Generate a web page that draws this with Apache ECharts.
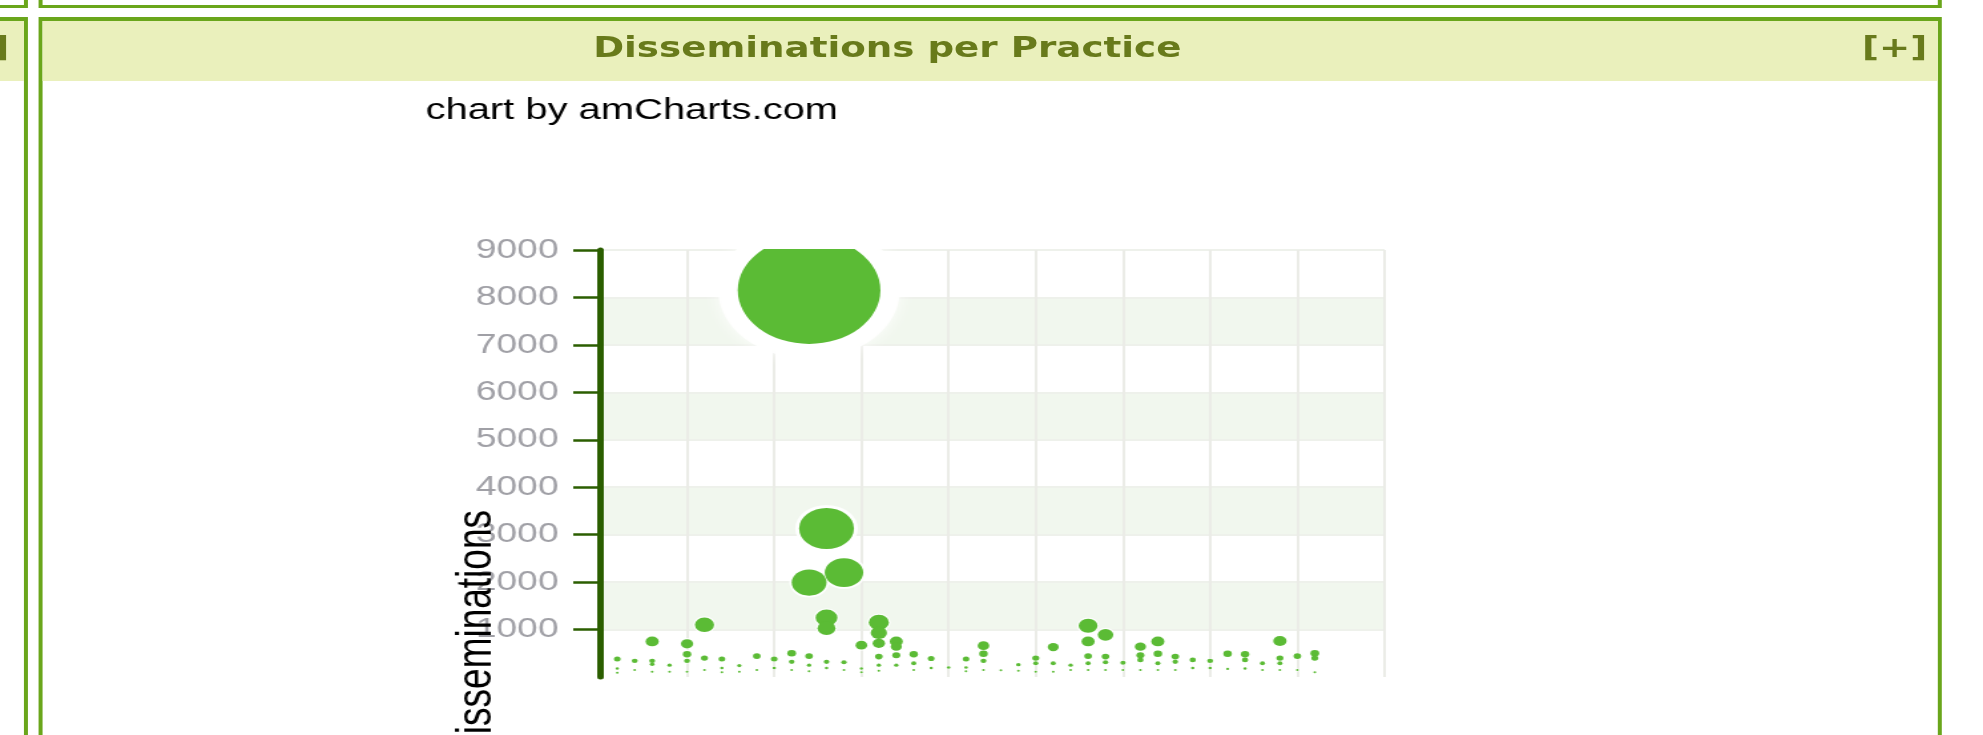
<!DOCTYPE html>
<html>
<head>
<meta charset="utf-8">
<title>Disseminations per Practice</title>
<script src="https://cdn.jsdelivr.net/npm/echarts@6/dist/echarts.min.js"></script>
<style>
  * { margin: 0; padding: 0; }
  body { width: 1983px; height: 735px; overflow: hidden; background: #fff; }
  /* the screenshot is stretched sideways, so lay out narrow and scale up */
  #page {
    position: absolute; left: 0; top: 0;
    width: 1491px; height: 735px;
    transform: scaleX(1.33); transform-origin: 0 0;
  }
  .panel { position: absolute; box-sizing: border-box; border: 3px solid #6aa61b; }
  .panel.low { border-top-width: 4px; }
  .head { position: absolute; left: 0; right: 0; top: 0; height: 60px; background: #eaf0bc; }
  .hd {
    position: absolute; top: 31px; height: 52px; line-height: 52px;
    font: bold 28px "DejaVu Sans", sans-serif; color: #687a1b; white-space: nowrap;
  }
  #chart { position: absolute; left: 0; top: 0; width: 1491px; height: 735px; }
</style>
</head>
<body>
<div id="page">
  <!-- neighbouring panels -->
  <div class="panel" style="left:-100px; top:-20px; width:121px; height:28px;"></div>
  <div class="panel" style="left:29.3px; top:-20px; width:1431px; height:28px;"></div>
  <div class="panel low" style="left:-100px; top:17px; width:121px; height:800px;"><div class="head"></div></div>
  <div class="panel low" style="left:29.3px; top:17px; width:1431px; height:800px;"><div class="head"></div></div>
  <div class="hd" style="left:-60px; width:67px; text-align:right;">[+]</div>
  <div class="hd" style="left:446px;">Disseminations per Practice</div>
  <div class="hd" style="left:1400px;">[+]</div>
  <div id="chart"></div>
</div>
<script>
// practice number on x, disseminations on y (one list of bubbles per practice)
var practiceIds = [];
for (var i = 1; i <= 41; i++) practiceIds.push(i);

var disseminations = [
  [380, 180, 90],
  [340, 150],
  [750, 340, 270, 110],
  [250, 110],
  [700, 480, 340, 110],
  [1100, 400, 150],
  [380, 190, 100],
  [240, 110],
  [440, 150],
  [380, 190],
  [500, 320, 150],
  [8150, 1990, 440, 250, 120],
  [3130, 1250, 1030, 320, 190],
  [2200, 310, 150],
  [670, 180, 100],
  [1150, 930, 710, 430, 250, 130],
  [750, 640, 460, 250],
  [480, 290, 150],
  [390, 190],
  [200],
  [380, 200, 120],
  [660, 490, 340, 150],
  [140],
  [260, 130],
  [400, 290, 110],
  [630, 290, 110],
  [250, 150],
  [1080, 750, 440, 290, 150],
  [890, 430, 310, 150],
  [300, 150],
  [640, 460, 360, 150],
  [750, 490, 290, 150],
  [430, 320, 150],
  [360, 190],
  [340, 190],
  [490, 170],
  [480, 360, 180],
  [290, 150],
  [760, 400, 290, 150],
  [440, 150],
  [500, 400, 100]
];

var yTickValues = [1000, 2000, 3000, 4000, 5000, 6000, 7000, 8000, 9000];

var points = [];
practiceIds.forEach(function (id, i) {
  disseminations[i].forEach(function (v) { points.push([id, v]); });
});
// big bubbles first so the small ones sit on top
points.sort(function (a, b) { return b[1] - a[1]; });

function bubbleSize(v) { return Math.max(2, v / 76); }
// white ring round each bubble, much wider on the big one
function haloSize(v) {
  var d = bubbleSize(v);
  return d < 6 ? d + 1 : d + 2 + d * d / 420;
}

var gridLeft = 451, gridRight = 450, gridTop = 250, gridBottom = 58;

var myChart = echarts.init(document.getElementById("chart"));
var option = {
  animation: false,
  grid: { left: gridLeft, right: gridRight, top: gridTop, bottom: gridBottom, containLabel: false, outerBoundsMode: "none" },
  xAxis: {
    type: "value",
    min: 0,
    max: 45,
    interval: 5,
    axisLine: { show: false },
    axisTick: { show: false },
    axisLabel: { show: false },
    splitLine: { show: true, lineStyle: { color: "#ebece7", width: 2 } }
  },
  yAxis: {
    type: "value",
    min: 0,
    max: 9000,
    interval: 1000,
    axisLine: { show: true, lineStyle: { color: "#2b5e00", width: 5 } },
    axisTick: { show: true, length: 20, customValues: yTickValues, lineStyle: { color: "#2b5e00", width: 2.5 } },
    axisLabel: {
      customValues: yTickValues,
      margin: 31,
      color: "#a0a0a6",
      fontSize: 28,
      fontFamily: "Liberation Sans",
      formatter: function (v) { return String(v); }
    },
    splitLine: { show: true, lineStyle: { color: "#eef1eb", width: 2 } },
    splitArea: { show: true, areaStyle: { color: ["#f1f7ee", "#ffffff"] } }
  },
  graphic: [
    {
      id: "credit",
      type: "text",
      x: 320,
      y: 111,
      style: { text: "chart by amCharts.com", font: '30px "Liberation Sans"', fill: "#000", verticalAlign: "middle" }
    },
    {
      id: "yname",
      type: "text",
      x: 377,
      y: 510,
      rotation: Math.PI / 2,
      z: 120,
      style: { text: "Disseminations", font: '37px "Liberation Sans"', fill: "#000", align: "right", verticalAlign: "bottom" }
    },
    {
      // the plot clips bubbles at its top edge
      id: "mask",
      type: "rect",
      zlevel: 1,
      shape: { x: gridLeft + 3, y: gridTop - 100, width: 1491 - gridLeft - gridRight - 2, height: 99 },
      style: { fill: "#ffffff" }
    }
  ],
  series: [
    {
      type: "scatter",
      symbol: "circle",
      silent: true,
      symbolSize: function (val) { return haloSize(val[1]); },
      itemStyle: { color: "#ffffff", opacity: 0.9, shadowColor: "rgba(255,255,255,1)" },
      data: points.map(function (p) {
        return { value: p, itemStyle: { shadowBlur: bubbleSize(p[1]) > 60 ? 14 : 0 } };
      }),
      z: 2
    },
    {
      type: "scatter",
      symbol: "circle",
      symbolSize: function (val) { return bubbleSize(val[1]); },
      itemStyle: { color: "#5bbb35", opacity: 1 },
      data: points,
      z: 3
    }
  ]
};
myChart.setOption(option);
</script>
</body>
</html>
